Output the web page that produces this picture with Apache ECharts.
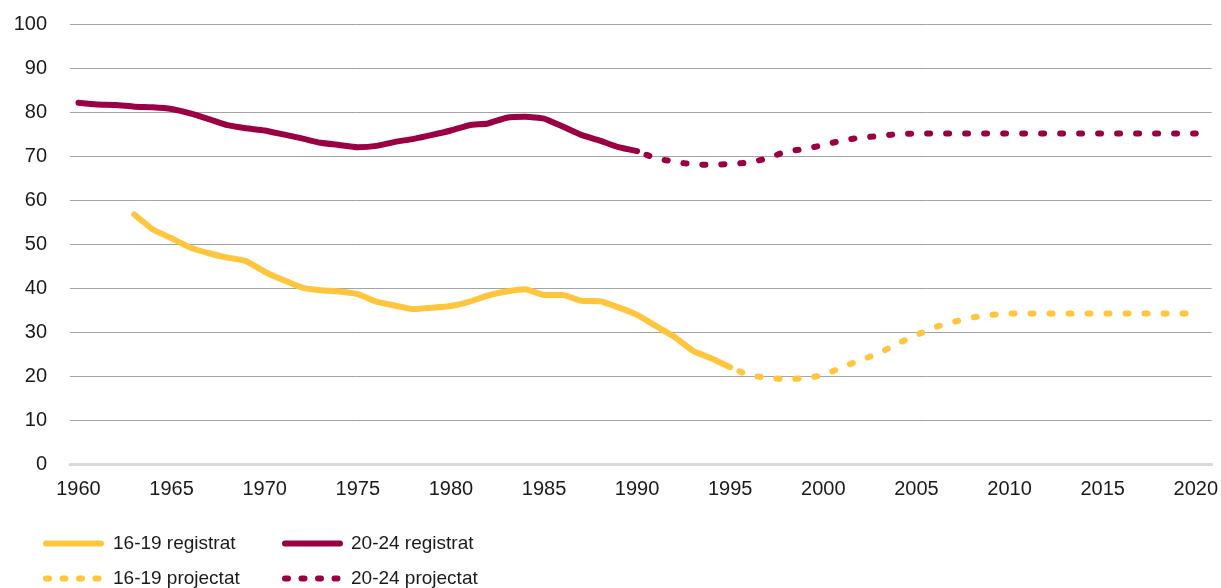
<!DOCTYPE html>
<html>
<head>
<meta charset="utf-8">
<script src="https://cdn.jsdelivr.net/npm/echarts@6/dist/echarts.min.js"></script>
<style>
	html,body{margin:0;padding:0;background:#fff}
	#chart{width:1221px;height:588px}
</style>
</head>
<body>
<div id="chart"></div>
<script>
// years shown on the x axis
var yearTicks = [1960, 1965, 1970, 1975, 1980, 1985, 1990, 1995, 2000, 2005, 2010, 2015, 2020];

// 16-19, registered (1963-1995)
var years1619Reg = [1963,1964,1965,1966,1967,1968,1969,1970,1971,1972,1973,1974,1975,1976,1977,1978,1979,1980,1981,1982,1983,1984,1985,1986,1987,1988,1989,1990,1991,1992,1993,1994,1995];
var vals1619Reg = [56.7,53.3,51.3,49.2,47.9,46.9,46.1,43.7,41.8,40.1,39.5,39.2,38.6,36.9,36.0,35.2,35.5,35.9,36.9,38.3,39.2,39.7,38.4,38.4,37.1,37.0,35.6,33.9,31.4,28.9,25.7,24.0,22.0];

// 16-19, projected (1995-2020)
var years1619Proj = [1995,1996,1997,1998,1999,2000,2001,2002,2003,2004,2005,2006,2007,2008,2009,2010,2011,2012,2013,2014,2015,2016,2017,2018,2019,2020];
var vals1619Proj = [22.0,20.2,19.6,19.3,19.5,20.2,22.0,23.6,25.2,27.4,29.3,31.1,32.3,33.3,33.9,34.2,34.2,34.2,34.2,34.2,34.2,34.2,34.2,34.2,34.2,34.2];

// 20-24, registered (1960-1990)
var years2024Reg = [1960,1961,1962,1963,1964,1965,1966,1967,1968,1969,1970,1971,1972,1973,1974,1975,1976,1977,1978,1979,1980,1981,1982,1983,1984,1985,1986,1987,1988,1989,1990];
var vals2024Reg = [82.1,81.7,81.6,81.2,81.1,80.7,79.7,78.4,77.0,76.3,75.8,74.9,74.0,73.0,72.5,72.0,72.3,73.2,73.9,74.8,75.8,77.0,77.4,78.7,78.9,78.5,76.7,74.8,73.5,72.0,71.1];

// 20-24, projected (1990-2020)
var years2024Proj = [1990,1991,1992,1993,1994,1995,1996,1997,1998,1999,2000,2001,2002,2003,2004,2005,2006,2007,2008,2009,2010,2011,2012,2013,2014,2015,2016,2017,2018,2019,2020];
var vals2024Proj = [71.1,69.5,68.7,68.1,68.0,68.2,68.5,69.5,71.0,71.6,72.5,73.5,74.2,74.5,75.0,75.1,75.1,75.1,75.1,75.1,75.1,75.1,75.1,75.1,75.1,75.1,75.1,75.1,75.1,75.1,75.1];

var yellow = '#FFC53D';
var maroon = '#9B0042';
var font = '"Liberation Sans", Arial, sans-serif';
var dots = [3,16];

function pairs(xs, ys){
	var out = [];
	for(var i=0;i<xs.length;i++){
		out.push([xs[i], ys[i]]);
	}
	return out;
}

// one legend per entry so the 2x2 layout is exact
function legendItem(name, left, top, pad, dotted){
	var ls = {width:6, dashOffset:0};
	if(dotted){
		ls.type = [3,13.5];
	}
	return {
		orient:'horizontal',
		left:left,
		top:top,
		padding:0,
		itemWidth:55,
		itemHeight:14,
		data:[name],
		itemStyle:{opacity:0},
		lineStyle:ls,
		textStyle:{fontSize:19, color:'#1a1a1a', padding:[0,0,0,pad], fontFamily:font}
	};
}

var myChart = echarts.init(document.getElementById('chart'));
var option = {
	animation:false,
	textStyle:{fontFamily:font},
	grid:{left:70, right:6, top:24, bottom:124, containLabel:false},
	xAxis:{
		type:'value',
		min:1959.545,
		max:2020.86,
		axisLine:{show:true, lineStyle:{color:'#d9d9d9', width:3}},
		axisTick:{show:false},
		splitLine:{show:false},
		axisLabel:{
			customValues:yearTicks,
			formatter:function(v){ return String(Math.round(v)); },
			color:'#1a1a1a',
			fontSize:20,
			margin:15,
			fontFamily:font
		}
	},
	yAxis:{
		type:'value',
		min:0,
		max:100,
		interval:10,
		axisLine:{show:false},
		axisTick:{show:false},
		axisLabel:{color:'#1a1a1a', fontSize:20, margin:23, fontFamily:font},
		splitLine:{
			lineStyle:{
				color:['#d9d9d9','#a3a3a3','#a3a3a3','#a3a3a3','#a3a3a3','#a3a3a3','#a3a3a3','#a3a3a3','#a3a3a3','#a3a3a3','#a3a3a3'],
				width:1
			}
		}
	},
	legend:[
		legendItem('16-19 registrat', 43, 534, 7, false),
		legendItem('16-19 projectat', 43, 569, 7, true),
		legendItem('20-24 registrat', 282, 534, 6, false),
		legendItem('20-24 projectat', 282, 569, 6, true)
	],
	series:[
		{
			name:'16-19 registrat',
			type:'line',
			symbol:'none',
			smooth:0.15,
			data:pairs(years1619Reg, vals1619Reg),
			itemStyle:{color:yellow},
			lineStyle:{color:yellow, width:6, cap:'round', join:'round'}
		},
		{
			name:'16-19 projectat',
			type:'line',
			symbol:'none',
			smooth:0.15,
			data:pairs(years1619Proj, vals1619Proj),
			itemStyle:{color:yellow},
			lineStyle:{color:yellow, width:6, type:dots, dashOffset:-10, cap:'round'}
		},
		{
			name:'20-24 registrat',
			type:'line',
			symbol:'none',
			smooth:0.15,
			data:pairs(years2024Reg, vals2024Reg),
			itemStyle:{color:maroon},
			lineStyle:{color:maroon, width:6, cap:'round', join:'round'}
		},
		{
			name:'20-24 projectat',
			type:'line',
			symbol:'none',
			smooth:0.15,
			data:pairs(years2024Proj, vals2024Proj),
			itemStyle:{color:maroon},
			lineStyle:{color:maroon, width:6, type:dots, dashOffset:-10, cap:'round'}
		}
	]
};
myChart.setOption(option);
</script>
</body>
</html>
